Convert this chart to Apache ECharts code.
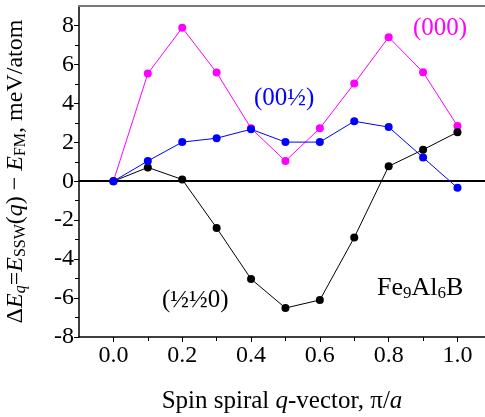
<!DOCTYPE html>
<html>
<head>
<meta charset="utf-8">
<script src="https://cdn.jsdelivr.net/npm/echarts@6/dist/echarts.min.js"></script>
<style>
html,body{margin:0;padding:0;background:#fff;}
#c{width:485px;height:417px;}
</style>
</head>
<body>
<div id="c"></div>
<script>
var qValues = [0.0, 0.1, 0.2, 0.3, 0.4, 0.5, 0.6, 0.7, 0.8, 0.9, 1.0];
var series000 = [0, 5.53, 7.88, 5.58, 2.72, 1.04, 2.72, 5.02, 7.40, 5.60, 2.84];
var series00h = [0, 1.04, 2.01, 2.21, 2.67, 2.01, 2.01, 3.08, 2.78, 1.22, -0.34];
var serieshh0 = [0, 0.71, 0.09, -2.40, -5.02, -6.51, -6.10, -2.89, 0.77, 1.62, 2.52];
var xMajorTicks = [0.0, 0.2, 0.4, 0.6, 0.8, 1.0];
var xMinorTicks = [0.1, 0.3, 0.5, 0.7, 0.9];
var yMajorTicks = [-8, -6, -4, -2, 0, 2, 4, 6, 8];
var yMinorTicks = [-7, -5, -3, -1, 1, 3, 5, 7];

function pairs(ys) { return qValues.map(function (q, i) { return [q, ys[i]]; }); }

var FONT = 'Liberation Serif';
var chart = echarts.init(document.getElementById('c'));
var X0 = -0.1, X1 = 1.08, Y0 = -8, Y1 = 9;

chart.setOption({
  animation: false,
  backgroundColor: '#fff',
  grid: { left: 79, right: 0, top: 6, bottom: 80, containLabel: false, outerBoundsMode: 'none' },
  xAxis: [
    {
      type: 'value', min: X0, max: X1, position: 'bottom',
      axisLine: { show: true, onZero: false, lineStyle: { color: '#000', width: 1.5 } },
      axisTick: { show: true, inside: false, length: 5, customValues: xMajorTicks, lineStyle: { color: '#000', width: 1 } },
      axisLabel: { customValues: xMajorTicks, color: '#000', fontFamily: FONT, fontSize: 24, margin: 7,
        formatter: function (v) { return v.toFixed(1); } },
      splitLine: { show: false },
      name: '{n|Spin spiral }{i|q}{n|-vector, π/}{i|a}',
      nameLocation: 'middle', nameGap: 52,
      nameTextStyle: { rich: {
        n: { fontFamily: FONT, fontSize: 25, color: '#000' },
        i: { fontFamily: FONT, fontSize: 25, fontStyle: 'italic', color: '#000' }
      } }
    },
    {
      type: 'value', min: X0, max: X1, position: 'bottom',
      axisLine: { show: false, onZero: false },
      axisTick: { show: true, length: 4, customValues: xMinorTicks, lineStyle: { color: '#000', width: 1 } },
      axisLabel: { show: false },
      splitLine: { show: false }
    },
    {
      type: 'value', min: X0, max: X1, position: 'top',
      axisLine: { show: true, onZero: false, lineStyle: { color: '#777', width: 2 } },
      axisTick: { show: false }, axisLabel: { show: false }, splitLine: { show: false }
    }
  ],
  yAxis: [
    {
      type: 'value', min: Y0, max: Y1, position: 'left',
      axisLine: { show: true, onZero: false, lineStyle: { color: '#000', width: 1.5 } },
      axisTick: { show: true, inside: false, length: 5, customValues: yMajorTicks, lineStyle: { color: '#000', width: 1 } },
      axisLabel: { customValues: yMajorTicks, color: '#000', fontFamily: FONT, fontSize: 24, margin: 5 },
      splitLine: { show: false },
      name: '{n|Δ}{i|E}{si|q}{n|=}{i|E}{s|SSW}{n|(}{i|q}{n|) − }{i|E}{s|FM}{n|, meV/atom}',
      nameLocation: 'middle', nameGap: 50, nameRotate: 90,
      nameTextStyle: { rich: {
        n: { fontFamily: FONT, fontSize: 24, color: '#000' },
        i: { fontFamily: FONT, fontSize: 24, fontStyle: 'italic', color: '#000' },
        s: { fontFamily: FONT, fontSize: 16, color: '#000', padding: [10, 0, 0, 0] },
        si: { fontFamily: FONT, fontSize: 16, fontStyle: 'italic', color: '#000', padding: [10, 0, 0, 0] }
      } }
    },
    {
      type: 'value', min: Y0, max: Y1, position: 'left',
      axisLine: { show: false, onZero: false },
      axisTick: { show: true, length: 4, customValues: yMinorTicks, lineStyle: { color: '#000', width: 1 } },
      axisLabel: { show: false },
      splitLine: { show: false }
    }
  ],
  series: [
    {
      type: 'line', name: '(000)', data: pairs(series000),
      color: '#ff00ff', symbol: 'circle', symbolSize: 8,
      lineStyle: { width: 1, color: '#ff00ff' }, itemStyle: { color: '#ff00ff' }, z: 3,
      markLine: {
        silent: true, symbol: 'none', label: { show: false },
        lineStyle: { color: '#000', width: 2, type: 'solid' },
        data: [{ yAxis: 0 }]
      }
    },
    {
      type: 'line', name: '(½½0)', data: pairs(serieshh0),
      symbol: 'circle', symbolSize: 8,
      lineStyle: { width: 1, color: '#000' }, itemStyle: { color: '#000' }, z: 4
    },
    {
      type: 'line', name: '(00½)', data: pairs(series00h),
      symbol: 'circle', symbolSize: 8,
      lineStyle: { width: 1, color: '#0000ff' }, itemStyle: { color: '#0000ff' }, z: 5
    }
  ],
  graphic: [
    { type: 'text', left: 413, top: 16, z: 10, style: { text: '(000)', fill: '#ff00ff', font: '25px "Liberation Serif"' } },
    { type: 'text', left: 254, top: 86, z: 10, style: { text: '(00½)', fill: '#0000ff', font: '25px "Liberation Serif"' } },
    { type: 'text', left: 162, top: 288, z: 10, style: { text: '(½½0)', fill: '#000', font: '25px "Liberation Serif"' } },
    { type: 'text', left: 377, top: 275, z: 10, style: {
      text: '{n|Fe}{s|9}{n|Al}{s|6}{n|B}',
      rich: {
        n: { fontFamily: FONT, fontSize: 26, fill: '#000' },
        s: { fontFamily: FONT, fontSize: 17, fill: '#000', padding: [11, 0, 0, 0] }
      } } }
  ]
});
</script>
</body>
</html>
